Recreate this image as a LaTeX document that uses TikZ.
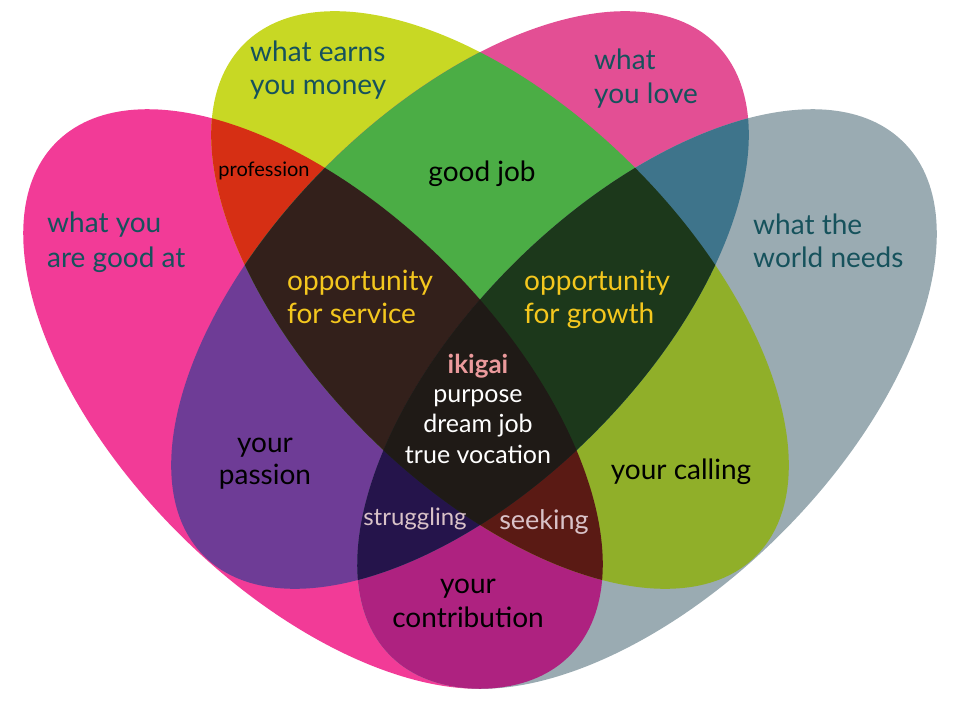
\documentclass[tikz,border=0pt]{standalone}
\usepackage{fontspec}
\setmainfont{Lato}
\definecolor{cGood}{HTML}{F23B97}
\definecolor{cMoney}{HTML}{C8D824}
\definecolor{cLove}{HTML}{E34F94}
\definecolor{cWorld}{HTML}{9AABB2}
\definecolor{cProf}{HTML}{D62F14}
\definecolor{cJob}{HTML}{4BAD45}
\definecolor{cPass}{HTML}{6E3C96}
\definecolor{cLW}{HTML}{3E748B}
\definecolor{cCall}{HTML}{90AF29}
\definecolor{cContr}{HTML}{AE2280}
\definecolor{cServ}{HTML}{33201B}
\definecolor{cGrow}{HTML}{1C381B}
\definecolor{cStrug}{HTML}{25144B}
\definecolor{cSeek}{HTML}{5A1A14}
\definecolor{cIki}{HTML}{1F1A16}
\definecolor{tTeal}{HTML}{16525C}
\definecolor{tGold}{HTML}{F4C71E}
\definecolor{tIki}{HTML}{EB9A9C}
\definecolor{tPale}{HTML}{D9C2C8}
\begin{document}
\begin{tikzpicture}[x=1pt,y=-1pt,
  lbl/.style={inner sep=0pt, font=\fontsize{28}{28}\selectfont},
  setlbl/.style={lbl, anchor=base west, text=tTeal},
  blk/.style={lbl, anchor=base, text=black},
  goldlbl/.style={lbl, anchor=base west, text=tGold},
  whitelbl/.style={lbl, anchor=base, text=white, font=\fontsize{25}{25}\selectfont},
  ikilbl/.style={lbl, anchor=base, text=tIki, font=\fontsize{26}{26}\selectfont\bfseries},
  palelbl/.style={lbl, anchor=base, text=tPale, font=\fontsize{24}{24}\selectfont},
  smalllbl/.style={blk, font=\fontsize{20}{20}\selectfont}]
\useasboundingbox (0,0) rectangle (960,703);
\def\PG{[rotate around={-45:(313,399)}] (313,399) ellipse [x radius=363, y radius=190]}
\def\PM{[rotate around={-45:(500,300)}] (500,300) ellipse [x radius=362, y radius=189]}
\def\PL{[rotate around={45:(460,300)}] (460,300) ellipse [x radius=362, y radius=189]}
\def\PW{[rotate around={45:(647,399)}] (647,399) ellipse [x radius=363, y radius=190]}
% single sets
\fill[cGood] \PG;
\fill[cMoney] \PM;
\fill[cLove] \PL;
\fill[cWorld] \PW;
% pairs
\begin{scope}\clip \PG; \fill[cProf] \PM; \fill[cPass] \PL; \fill[cContr] \PW; \end{scope}
\begin{scope}\clip \PM; \fill[cJob] \PL; \fill[cCall] \PW; \end{scope}
\begin{scope}\clip \PL; \fill[cLW] \PW; \end{scope}
% triples
\begin{scope}\clip \PG; \clip \PM; \fill[cServ] \PL; \fill[cSeek] \PW; \end{scope}
\begin{scope}\clip \PG; \clip \PL; \fill[cStrug] \PW; \end{scope}
\begin{scope}\clip \PM; \clip \PL; \fill[cGrow] \PW; \end{scope}
% all four
\begin{scope}\clip \PG; \clip \PM; \clip \PL; \fill[cIki] \PW; \end{scope}
% labels
\node[setlbl] (earn1) at (250,62) {what earns};
\node[setlbl] (earn2) at (250,95) {you money};
\node[setlbl] (love1) at (594,70) {what};
\node[setlbl] (love2) at (594,104) {you love};
\node[setlbl] (good1) at (47,233) {what you};
\node[setlbl] (good2) at (47,267) {are good at};
\node[setlbl] (world1) at (753,234) {what the};
\node[setlbl] (world2) at (753,267) {world needs};
\node[smalllbl] (prof) at (264,177) {profession};
\node[blk] (job) at (482,182) {good job};
\node[goldlbl] (serv1) at (287,290) {opportunity};
\node[goldlbl] (serv2) at (287,323) {for service};
\node[goldlbl] (grow1) at (524,290) {opportunity};
\node[goldlbl] (grow2) at (524,323) {for growth};
\node[ikilbl] (iki) at (478,373) {ikigai};
\node[whitelbl] (purp) at (478,402) {purpose};
\node[whitelbl] (dream) at (478,432) {dream job};
\node[whitelbl] (voc) at (478,463) {true vocation};
\node[blk] (pass1) at (265,452) {your};
\node[blk] (pass2) at (265,484) {passion};
\node[blk] (call) at (681,479) {your calling};
\node[palelbl] (strug) at (415,525) {struggling};
\node[palelbl, font=\fontsize{27}{27}\selectfont] (seek) at (544,529) {seeking};
\node[blk] (contr1) at (468,593) {your};
\node[blk] (contr2) at (468,627) {contribution};
\end{tikzpicture}
\end{document}
